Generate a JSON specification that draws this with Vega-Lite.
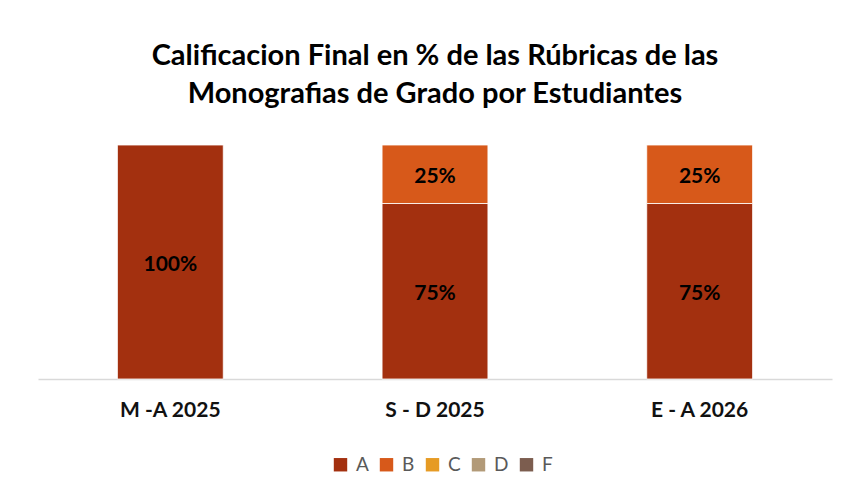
{
  "$schema": "https://vega.github.io/schema/vega-lite/v6.json",
  "autosize": {"type": "none"},
  "width": 794,
  "height": 234,
  "padding": {"left": 38, "top": 145, "right": 14, "bottom": 116},
  "background": "white",
  "config": {"view": {"stroke": null}},
  "title": {
    "text": ["Calificacion Final en % de las Rúbricas de las", "Monografias de Grado por Estudiantes"],
    "font": "Lato",
    "fontSize": 29,
    "fontWeight": "bold",
    "color": "#000000",
    "anchor": "middle",
    "lineHeight": 38,
    "offset": 36
  },
  "data": {
    "values": [
      {"periodo": "M -A 2025", "nota": "A", "valor": 1.0, "etiqueta": "100%"},
      {"periodo": "S - D 2025", "nota": "A", "valor": 0.75, "etiqueta": "75%"},
      {"periodo": "S - D 2025", "nota": "B", "valor": 0.25, "etiqueta": "25%"},
      {"periodo": "E - A 2026", "nota": "A", "valor": 0.75, "etiqueta": "75%"},
      {"periodo": "E - A 2026", "nota": "B", "valor": 0.25, "etiqueta": "25%"}
    ]
  },
  "transform": [
    {"stack": "valor", "groupby": ["periodo"], "sort": [{"field": "nota", "order": "ascending"}], "as": ["v0", "v1"]}
  ],
  "encoding": {
    "x": {
      "field": "periodo",
      "type": "nominal",
      "sort": null,
      "scale": {"paddingInner": 0.6, "paddingOuter": 0.3},
      "axis": {
        "title": null,
        "labelAngle": 0,
        "labelFont": "Lato",
        "labelFontSize": 21,
        "labelFontWeight": "bold",
        "labelColor": "#111111",
        "labelPadding": 20,
        "ticks": false,
        "domainColor": "#D9D9D9",
        "domainWidth": 1.5
      }
    }
  },
  "layer": [
    {
      "mark": {"type": "bar", "stroke": "white", "strokeWidth": 0.8},
      "encoding": {
        "y": {"field": "v0", "type": "quantitative", "scale": {"domain": [0, 1]}, "axis": null},
        "y2": {"field": "v1"},
        "color": {
          "field": "nota",
          "type": "nominal",
          "scale": {"domain": ["A", "B", "C", "D", "F"], "range": ["#A3300F", "#D7591A", "#E69B24", "#B29A78", "#7C5D4F"]},
          "legend": {
            "title": null,
            "orient": "none",
            "legendX": 293,
            "legendY": 310,
            "direction": "horizontal",
            "symbolType": "square",
            "symbolSize": 180,
            "symbolStrokeWidth": 0,
            "labelFont": "Lato",
            "labelFontSize": 19,
            "labelColor": "#595959",
            "labelOffset": 6,
            "columnPadding": 8
          }
        }
      }
    },
    {
      "transform": [
        {"fold": ["v0", "v1"], "as": ["extremo", "pos"]}
      ],
      "mark": {"type": "text", "font": "Lato", "fontSize": 21, "fontWeight": "bold", "color": "#000000", "baseline": "middle", "dy": 3},
      "encoding": {
        "y": {"aggregate": "mean", "field": "pos", "type": "quantitative"},
        "detail": {"field": "nota"},
        "text": {"field": "etiqueta", "type": "nominal"}
      }
    }
  ]
}
